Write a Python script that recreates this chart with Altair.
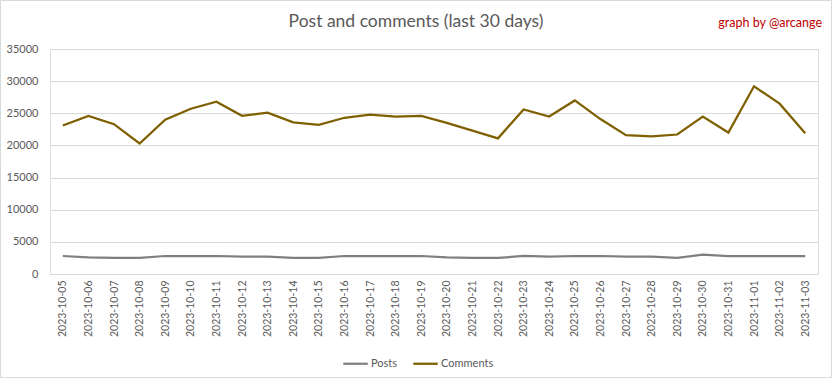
import altair as alt
import pandas as pd

dates = ["2023-10-05","2023-10-06","2023-10-07","2023-10-08","2023-10-09","2023-10-10",
         "2023-10-11","2023-10-12","2023-10-13","2023-10-14","2023-10-15","2023-10-16",
         "2023-10-17","2023-10-18","2023-10-19","2023-10-20","2023-10-21","2023-10-22",
         "2023-10-23","2023-10-24","2023-10-25","2023-10-26","2023-10-27","2023-10-28",
         "2023-10-29","2023-10-30","2023-10-31","2023-11-01","2023-11-02","2023-11-03"]
posts = [2800, 2600, 2500, 2500, 2800, 2800, 2800, 2700, 2700, 2500, 2500, 2800,
         2800, 2800, 2800, 2600, 2500, 2500, 2800, 2700, 2800, 2800, 2700, 2700,
         2500, 3000, 2800, 2800, 2800, 2800]
comments = [23100, 24600, 23300, 20300, 24000, 25700, 26800, 24600, 25100, 23600,
            23200, 24300, 24800, 24500, 24600, 23500, 22300, 21100, 25600, 24500,
            27000, 24100, 21600, 21400, 21700, 24500, 22000, 29200, 26500, 21900]
series_names = ["Posts", "Comments"]
series_colors = ["#7f7f7f", "#7f6000"]
y_ticks = [0, 5000, 10000, 15000, 20000, 25000, 30000, 35000]
title_text = "Post and comments (last 30 days)"
credit_text = "graph by @arcange"

rows = []
for d, p, c in zip(dates, posts, comments):
    rows.append({"date": d, "series": "Posts", "value": p})
    rows.append({"date": d, "series": "Comments", "value": c})
df = pd.DataFrame(rows)

FONT = "Lato"

lines = alt.Chart(df).mark_line(strokeWidth=2.25).encode(
    x=alt.X("date:N", sort=dates, title=None,
            scale=alt.Scale(type="point", padding=0.5),
            axis=alt.Axis(labelAngle=270, labelFontSize=10.5, labelColor="#595959",
                          labelFont=FONT, ticks=False, domainColor="#d9d9d9",
                          labelPadding=6, grid=False)),
    y=alt.Y("value:Q", title=None,
            scale=alt.Scale(domain=[0, 35000], nice=False),
            axis=alt.Axis(values=y_ticks, format="d", labelFontSize=11,
                          labelColor="#595959", labelFont=FONT, ticks=False,
                          domain=False, gridColor="#d9d9d9", labelPadding=12)),
    color=alt.Color("series:N", sort=series_names,
                    scale=alt.Scale(domain=series_names, range=series_colors),
                    legend=alt.Legend(title=None, orient="none", legendX=292, legendY=301,
                                      direction="horizontal", symbolType="stroke",
                                      symbolStrokeWidth=2.25, symbolSize=600,
                                      labelFontSize=11, labelColor="#595959",
                                      labelFont=FONT, columnPadding=10, labelOffset=2)),
    order=alt.Order("date:N")
)

title = alt.Chart(pd.DataFrame({"t": [title_text]})).mark_text(
    align="center", baseline="middle", color="#595959", fontSize=17.5, font=FONT,
    fontWeight="normal"
).encode(text="t:N", x=alt.value(366), y=alt.value(-27))

credit = alt.Chart(pd.DataFrame({"t": [credit_text]})).mark_text(
    align="right", baseline="middle", color="#c00000", fontSize=12.5, font=FONT
).encode(text="t:N", x=alt.value(772), y=alt.value(-26))

frame = alt.Chart(pd.DataFrame({"a": [0]})).mark_rect(
    fill=None, stroke="#d9d9d9", strokeWidth=1
).encode(x=alt.value(-49.5), x2=alt.value(781.5), y=alt.value(-48.5), y2=alt.value(328.5))

chart = alt.layer(frame, lines, title, credit).properties(
    width=768, height=225,
    padding={"left": 50, "top": 49, "right": 14, "bottom": 104},
    autosize=alt.AutoSizeParams(type="none"),
).configure_view(stroke=None).configure(background="white")

chart.save("out.html", embed_options={"renderer": "svg", "actions": False})
